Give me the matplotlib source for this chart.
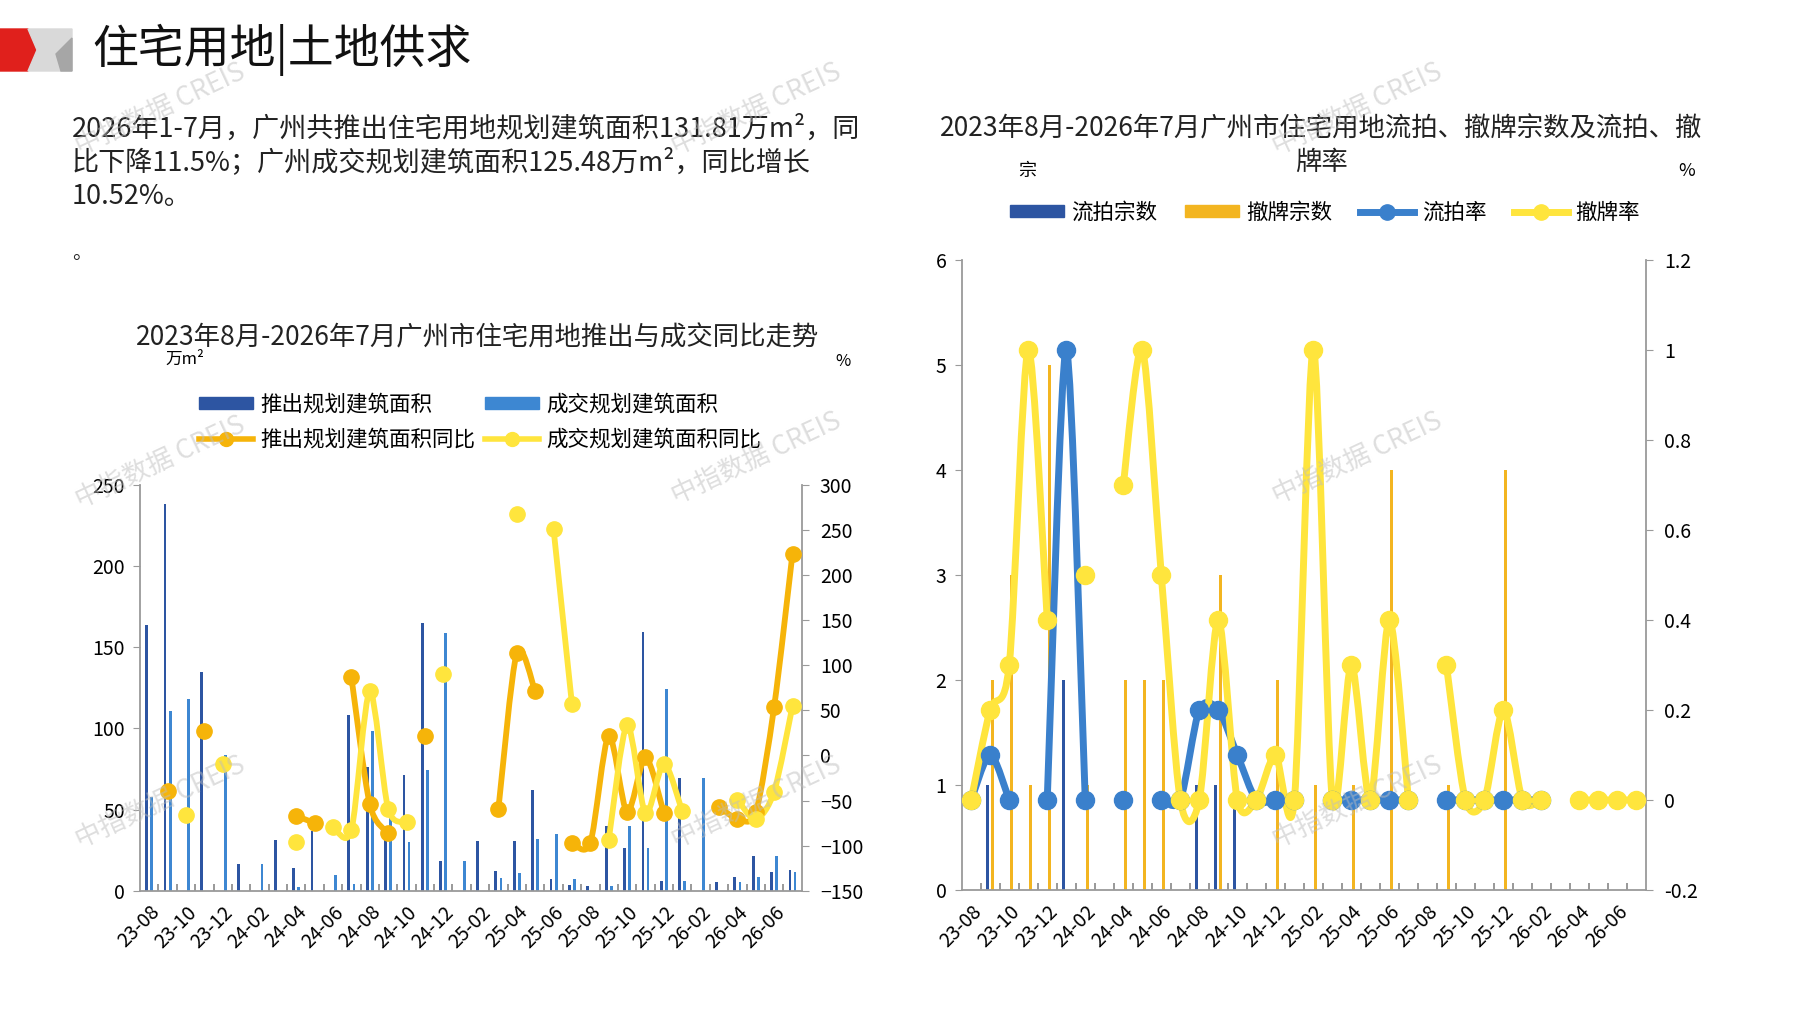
import numpy as np
import matplotlib
matplotlib.use("Agg")
import matplotlib.pyplot as plt
from matplotlib.path import Path
from matplotlib.patches import PathPatch, Polygon, Patch
from matplotlib.lines import Line2D

plt.rcParams['font.family'] = ['Noto Sans CJK SC', 'DejaVu Sans']

nan = np.nan

# 2023-08 .. 2026-07
months = ['%02d-%02d' % (2023 + (7 + k) // 12 - 2000, (7 + k) % 12 + 1) for k in range(36)]

# left chart: 万m2
supply_area = [164, 238, 0, 135, 0, 16.4, 0, 31.4, 14, 37, 0, 108,
               76, 35, 71.3, 165, 18.5, 0, 30.4, 12.3, 30.4, 62, 7.2, 3.5,
               2.7, 40, 26.3, 159.2, 6.2, 69.4, 0, 5.1, 8.6, 21.2, 11.3, 12.7]
deal_area = [57.7, 110.7, 118.4, 0, 83.9, 0, 16.4, 0, 2.5, 0, 9.7, 4.1,
             98.6, 46, 29.8, 74.6, 158.8, 18.5, 0, 7.6, 10.7, 31.8, 34.9, 7.2,
             0, 2.7, 40, 26.3, 124.3, 6.2, 69.4, 0, 5.1, 8.6, 21.2, 11.3]
# %
supply_yoy = [nan, -39, nan, 27, nan, nan, nan, nan, -67, -75, nan, 87,
              -54, -86, nan, 22, nan, nan, nan, -59, 114, 71, nan, -97,
              -97, 22, -63, -2, -64, nan, nan, -57, -70, -63, 54, 224]
deal_yoy = [nan, nan, -66, nan, -9, nan, nan, nan, -96, nan, -79, -83,
            71, -59, -74, nan, 90, nan, nan, nan, 268, nan, 251, 57,
            nan, -94, 34, -64, -9, -62, nan, nan, -49, -71, -40, 55]

# right chart
failed_cnt = [0, 1, 0, 0, 0, 2, 0, 0, 0, 0, 0, 0,
              1, 1, 1, 0, 0, 0, 0, 0, 0, 0, 0, 0,
              0, 0, 0, 0, 0, 0, 0, 0, 0, 0, 0, 0]
withdrawn_cnt = [0, 2, 3, 1, 5, 0, 1, 0, 2, 2, 2, 0,
                 0, 3, 0, 0, 2, 0, 1, 0, 1, 0, 4, 0,
                 0, 1, 0, 0, 4, 0, 0, 0, 0, 0, 0, 0]
failed_rate = [0, 0.1, 0, nan, 0, 1.0, 0, nan, 0, nan, 0, 0,
               0.2, 0.2, 0.1, 0, 0, 0, nan, 0, 0, 0, 0, 0,
               nan, 0, 0, 0, 0, 0, 0, nan, nan, nan, nan, nan]
withdrawn_rate = [0, 0.2, 0.3, 1.0, 0.4, nan, 0.5, nan, 0.7, 1.0, 0.5, 0,
                  0, 0.4, 0, 0, 0.1, 0, 1.0, 0, 0.3, 0, 0.4, 0,
                  nan, 0.3, 0, 0, 0.2, 0, 0, nan, 0, 0, 0, 0]

DARK = '#2D55A2'
LIGHT = '#3D87D2'
ORANGE = '#F6B409'
YELLOW = '#FFE53D'
GOLD = '#F3B520'
BLUE = '#3A80CC'
SPINE = '#9A9A9A'
TENSION = 1 / 7.0


def smooth_path(x, y):
    # excel style smoothed line, one bezier run per block of non-missing points
    x = np.asarray(x, float)
    y = np.asarray(y, float)
    ok = ~np.isnan(y)
    verts, codes = [], []
    i, n = 0, len(y)
    while i < n:
        if not ok[i]:
            i += 1
            continue
        j = i
        while j + 1 < n and ok[j + 1]:
            j += 1
        px, py = x[i:j + 1], y[i:j + 1]
        verts.append((px[0], py[0]))
        codes.append(Path.MOVETO)
        for k in range(len(px) - 1):
            a = k - 1 if k > 0 else k
            d = k + 2 if k + 2 < len(px) else k + 1
            c1 = (px[k] + (px[k + 1] - px[a]) * TENSION, py[k] + (py[k + 1] - py[a]) * TENSION)
            c2 = (px[k + 1] - (px[d] - px[k]) * TENSION, py[k + 1] - (py[d] - py[k]) * TENSION)
            verts += [c1, c2, (px[k + 1], py[k + 1])]
            codes += [Path.CURVE4] * 3
        i = j + 1
    return Path(verts, codes)


def rate_line(ax, y, color, lw, ms):
    x = np.arange(len(y))
    ax.add_patch(PathPatch(smooth_path(x, y), fill=False, edgecolor=color, lw=lw,
                           capstyle='round', joinstyle='round', zorder=3))
    ax.plot(x, y, 'o', color=color, ms=ms, zorder=4, clip_on=False)


def style_axes(ax, ax2):
    for s in ['top', 'right']:
        ax.spines[s].set_visible(False)
    for s in ['top', 'left', 'bottom']:
        ax2.spines[s].set_visible(False)
    for s in ['left', 'bottom']:
        ax.spines[s].set_color(SPINE)
        ax.spines[s].set_linewidth(1.3)
    ax2.spines['right'].set_color(SPINE)
    ax2.spines['right'].set_linewidth(1.3)
    ax.set_xlim(-0.5, len(months) - 0.5)
    ax.set_xticks(np.arange(0, len(months), 2))
    ax.set_xticklabels(months[::2], rotation=45, ha='right', rotation_mode='anchor', fontsize=14)
    ax.set_xticks(np.arange(0.5, len(months) - 1, 1), minor=True)
    ax.tick_params(axis='x', which='major', length=0, pad=8)
    ax.tick_params(axis='x', which='minor', direction='in', length=5, color='#888888', width=1.2)
    ax.tick_params(axis='y', direction='out', length=5, color=SPINE, labelsize=14, pad=6)
    ax2.tick_params(axis='y', direction='out', length=5, color=SPINE, labelsize=14, pad=8)


fig = plt.figure(figsize=(17.97, 10.10), dpi=100)
W, H = 1797.0, 1010.0


def fx(px):
    return px / W


def fy(py):
    return 1 - py / H


# header logo
fig.patches.append(Polygon([(fx(0), fy(29)), (fx(28), fy(29)), (fx(37), fy(50)), (fx(28), fy(71)), (fx(0), fy(71))],
                           closed=True, transform=fig.transFigure, color='#E0201C', zorder=1))
fig.patches.append(Polygon([(fx(28), fy(29)), (fx(72), fy(29)), (fx(72), fy(71)), (fx(28), fy(71)), (fx(37), fy(50))],
                           closed=True, transform=fig.transFigure, color='#D9D9D9', zorder=1))
fig.patches.append(Polygon([(fx(56), fy(54)), (fx(72), fy(38)), (fx(72), fy(71)), (fx(61), fy(71))],
                           closed=True, transform=fig.transFigure, color='#A6A6A6', zorder=1))
fig.text(fx(92), fy(50), '住宅用地|土地供求', fontsize=33, va='center', ha='left', color='#111111')

para = ['2026年1-7月，广州共推出住宅用地规划建筑面积131.81万m²，同',
        '比下降11.5%；广州成交规划建筑面积125.48万m²，同比增长',
        '10.52%。']
for k, line in enumerate(para):
    fig.text(fx(72), fy(129 + 33.5 * k), line, fontsize=19.5, va='center', ha='left', color='#222222')
fig.text(fx(72), fy(254), '。', fontsize=14, va='center', ha='left', color='#222222')

# ---------------- left chart ----------------
ax1 = fig.add_axes([fx(140), fy(890.7), (801.7 - 140) / W, (890.7 - 485) / H])
ax2 = ax1.twinx()
x = np.arange(len(months))
ax1.bar(x - 0.14, supply_area, width=0.15, color=DARK, zorder=2)
ax1.bar(x + 0.14, deal_area, width=0.15, color=LIGHT, zorder=2)
ax1.set_ylim(0, 250)
ax1.set_yticks(np.arange(0, 251, 50))
ax2.set_ylim(-150, 300)
ax2.set_yticks(np.arange(-150, 301, 50))
rate_line(ax2, supply_yoy, ORANGE, 4.2, 11)
rate_line(ax2, deal_yoy, YELLOW, 4.2, 11)
style_axes(ax1, ax2)

fig.text(fx(478), fy(338), '2023年8月-2026年7月广州市住宅用地推出与成交同比走势', fontsize=19,
         ha='center', va='center', color='#222222')
fig.text(fx(185), fy(359), '万m²', fontsize=12, ha='center', va='center')
fig.text(fx(843), fy(362), '%', fontsize=12, ha='center', va='center')

h_left = [Patch(color=DARK),
          Line2D([], [], color=ORANGE, lw=4, marker='o', ms=10),
          Patch(color=LIGHT),
          Line2D([], [], color=YELLOW, lw=4, marker='o', ms=10)]
l_left = ['推出规划建筑面积', '推出规划建筑面积同比', '成交规划建筑面积', '成交规划建筑面积同比']
fig.legend(h_left, l_left, ncol=2, loc='center', bbox_to_anchor=(fx(480), fy(422)), frameon=False,
           fontsize=15.5, handlelength=2.5, handleheight=0.5, handletextpad=0.35, columnspacing=0.45,
           labelspacing=0.6)

# ---------------- right chart ----------------
ax3 = fig.add_axes([fx(961.7), fy(890), (1646 - 961.7) / W, (890 - 259.5) / H])
ax4 = ax3.twinx()
ax3.bar(x - 0.13, failed_cnt, width=0.16, color=DARK, zorder=2)
ax3.bar(x + 0.13, withdrawn_cnt, width=0.16, color=GOLD, zorder=2)
ax3.set_ylim(0, 6)
ax3.set_yticks(np.arange(0, 7, 1))
rate_ticks = np.round(np.arange(-0.2, 1.21, 0.2), 1)
ax4.set_ylim(-0.2, 1.2)
ax4.set_yticks(rate_ticks)
ax4.set_yticklabels(['%g' % v for v in rate_ticks])
rate_line(ax4, failed_rate, BLUE, 5.0, 13)
rate_line(ax4, withdrawn_rate, YELLOW, 5.0, 13)
style_axes(ax3, ax4)

fig.text(fx(1321), fy(129), '2023年8月-2026年7月广州市住宅用地流拍、撤牌宗数及流拍、撤',
         fontsize=19, ha='center', va='center', color='#222222')
fig.text(fx(1321), fy(162), '牌率', fontsize=19, ha='center', va='center', color='#222222')
fig.text(fx(1027), fy(171), '宗', fontsize=13, ha='center', va='center')
fig.text(fx(1687), fy(171), '%', fontsize=13, ha='center', va='center')

h_right = [Patch(color=DARK), Patch(color=GOLD),
           Line2D([], [], color=BLUE, lw=5, marker='o', ms=11),
           Line2D([], [], color=YELLOW, lw=5, marker='o', ms=11)]
l_right = ['流拍宗数', '撤牌宗数', '流拍率', '撤牌率']
fig.legend(h_right, l_right, ncol=4, loc='center', bbox_to_anchor=(fx(1325), fy(213)), frameon=False,
           fontsize=15.5, handlelength=2.5, handleheight=0.5, handletextpad=0.35, columnspacing=1.3)

# watermarks
for wx, wy in [(160, 109), (756, 109), (1357, 109), (160, 462), (756, 458), (1357, 458),
               (160, 802), (756, 802), (1357, 802)]:
    fig.text(fx(wx), fy(wy), '中指数据 CREIS', fontsize=19, rotation=25, ha='center', va='center',
             color='#BDBDBD', alpha=0.5, zorder=10)

fig.savefig('out.png', dpi=100)
